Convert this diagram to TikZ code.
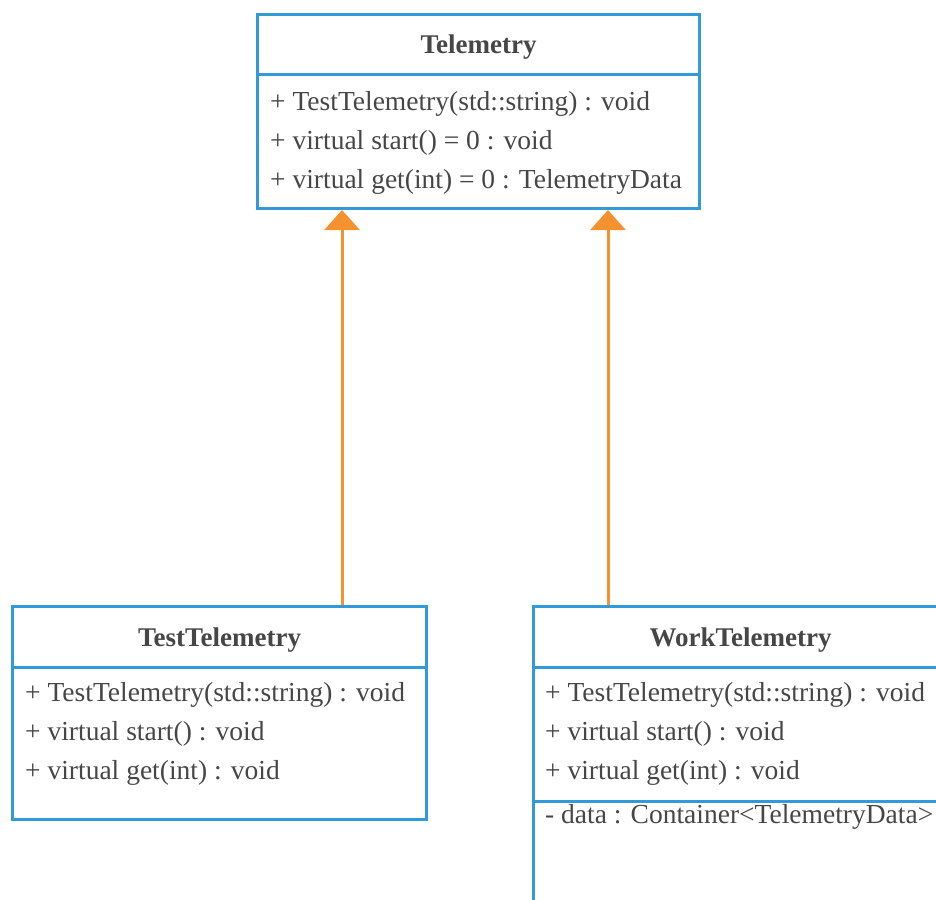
\documentclass[tikz,border=0pt]{standalone}
\usepackage{fontspec}
\newfontfamily\umlfont{Liberation Serif}[Ligatures=TeX]
\usetikzlibrary{arrows.meta}
\definecolor{umlblue}{RGB}{50,155,215}
\definecolor{umlorange}{RGB}{244,146,47}
\definecolor{umltext}{RGB}{70,70,70}
\tikzset{
  part/.style={draw=umlblue, line width=3pt, anchor=north west, inner sep=0pt},
  head/.style={part, text=umltext, font=\umlfont\fontsize{27}{39}\selectfont\bfseries, text height=19pt, text depth=0pt},
  member/.style={anchor=base west, inner sep=0pt, text=umltext, font=\umlfont\fontsize{27.5}{39}\selectfont},
  extends/.style={umlorange, line width=3pt, -{Triangle[length=20pt,width=35pt]}}
}
\begin{document}
\begin{tikzpicture}[x=1pt,y=-1pt]
\clip (0,0) rectangle (936,899);
%Telemetry
\node[head, minimum width=442pt, minimum height=60pt] (tel-head) at (256,13) {Telemetry};
\node[part, minimum width=442pt, minimum height=134pt] (tel-ops) at (256,73) {};
\node[member] (tel-op1) at (270,110) {+ TestTelemetry(std::string) : void};
\node[member] (tel-op2) at (270,149) {+ virtual start() = 0 : void};
\node[member] (tel-op3) at (270,188) {+ virtual get(int) = 0 : TelemetryData};
%TestTelemetry
\node[head, minimum width=414pt, minimum height=61pt] (test-head) at (11,605) {TestTelemetry};
\node[part, minimum width=414pt, minimum height=152pt] (test-ops) at (11,666) {};
\node[member] (test-op1) at (25,701) {+ TestTelemetry(std::string) : void};
\node[member] (test-op2) at (25,740) {+ virtual start() : void};
\node[member] (test-op3) at (25,779) {+ virtual get(int) : void};
%WorkTelemetry
\node[head, minimum width=414pt, minimum height=61pt] (work-head) at (532,605) {WorkTelemetry};
\node[part, minimum width=414pt, minimum height=134pt] (work-ops) at (532,666) {};
\node[part, minimum width=414pt, minimum height=130pt] (work-attr) at (532,800) {};
\node[member] (work-op1) at (545,701) {+ TestTelemetry(std::string) : void};
\node[member] (work-op2) at (545,740) {+ virtual start() : void};
\node[member] (work-op3) at (545,779) {+ virtual get(int) : void};
\node[member] (work-at1) at (545,823) {- data : Container<TelemetryData>};
%inheritance
\draw[extends] ([xshift=331pt]test-head.north west) -- ([xshift=331pt]test-head.north west |- tel-ops.south);
\draw[extends] ([xshift=76pt]work-head.north west) -- ([xshift=76pt]work-head.north west |- tel-ops.south);
\end{tikzpicture}
\end{document}
